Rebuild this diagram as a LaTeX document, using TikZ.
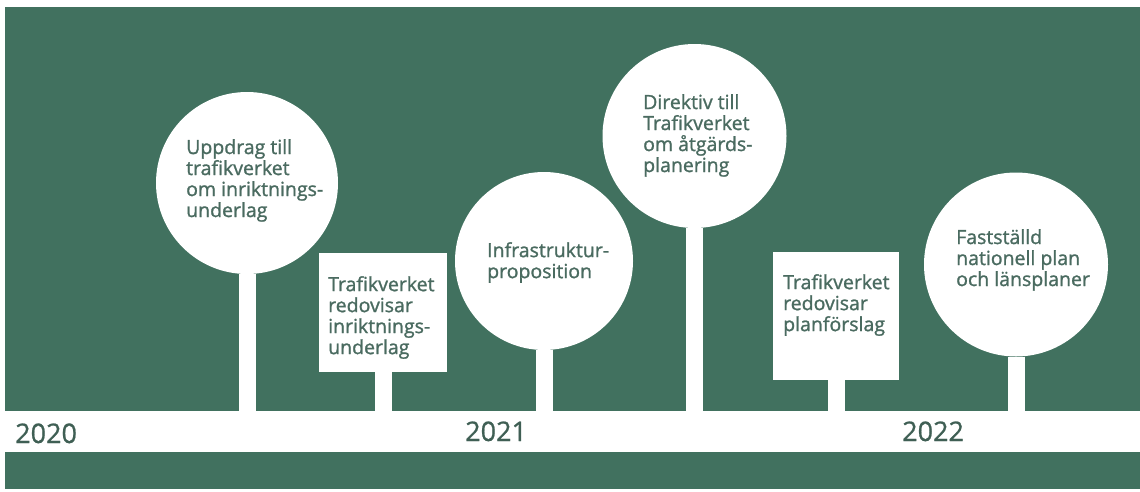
\documentclass[tikz,border=0pt]{standalone}
\usepackage{fontspec}
\setmainfont{Open Sans}
\newfontfamily\labfont{Open Sans}[FakeBold=1.2]
\newfontfamily\yearfont{Open Sans}[FakeBold=0.8]
\definecolor{bggreen}{RGB}{65,113,95}
\definecolor{txtc}{RGB}{74,107,96}
\definecolor{yearc}{RGB}{63,95,84}
\tikzset{
  bgbox/.style={rectangle, fill=bggreen, draw=none, inner sep=0pt, minimum width=1135pt, minimum height=482pt},
  bandbox/.style={rectangle, fill=white, draw=none, inner sep=0pt, minimum width=1135pt, minimum height=41pt},
  ball/.style={circle, fill=white, draw=none, inner sep=0pt, minimum size=#1},
  sign/.style={rectangle, fill=white, draw=none, inner sep=0pt},
  stem/.style={white, line width=17pt},
  label/.style={anchor=north west, inner sep=0pt, align=left, text=txtc, font=\labfont\fontsize{19.5}{21}\selectfont},
  yearlab/.style={anchor=base west, inner sep=0pt, text=yearc, font=\yearfont\fontsize{27}{30}\selectfont}
}
\begin{document}
\begin{tikzpicture}[x=1pt, y=-1pt]
\useasboundingbox (0,0) rectangle (1140,491);
\node[bgbox] (bg) at (572.5,248) {};
\node[bandbox] (band) at (572.5,431.5) {};
% circles and boxes
\node[ball=182pt] (c1) at (247,183) {};
\node[sign, minimum width=128pt, minimum height=119pt] (b1) at (383,312.5) {};
\node[ball=178pt] (c2) at (544,261) {};
\node[ball=184pt] (c3) at (694.5,136) {};
\node[sign, minimum width=126pt, minimum height=128pt] (b2) at (836,316) {};
\node[ball=184pt] (c4) at (1016,264.5) {};
% stems
\draw[stem] (c1.south) -- (c1.south |- band.north);
\draw[stem] (b1.south) -- (b1.south |- band.north);
\draw[stem] (c2.south) -- (c2.south |- band.north);
\draw[stem] (c3.south) -- (c3.south |- band.north);
\draw[stem] (b2.south) -- (b2.south |- band.north);
\draw[stem] (c4.south) -- (c4.south |- band.north);
% texts
\node[label] (t1) at (186,139) {Uppdrag till\\trafikverket\\om inriktnings-\\underlag};
\node[label] (t2) at (328,276) {Trafikverket\\redovisar\\inriktnings-\\underlag};
\node[label] (t3) at (487,242) {Infrastruktur-\\proposition};
\node[label] (t4) at (643,94) {Direktiv till\\Trafikverket\\om åtgärds-\\planering};
\node[label] (t5) at (783,274) {Trafikverket\\redovisar\\planförslag};
\node[label] (t6) at (956,229) {Fastställd\\nationell plan\\och länsplaner};
% years
\node[yearlab] (y1) at (15,443) {2020};
\node[yearlab] (y2) at (465,441) {2021};
\node[yearlab] (y3) at (902,441) {2022};
\end{tikzpicture}
\end{document}
